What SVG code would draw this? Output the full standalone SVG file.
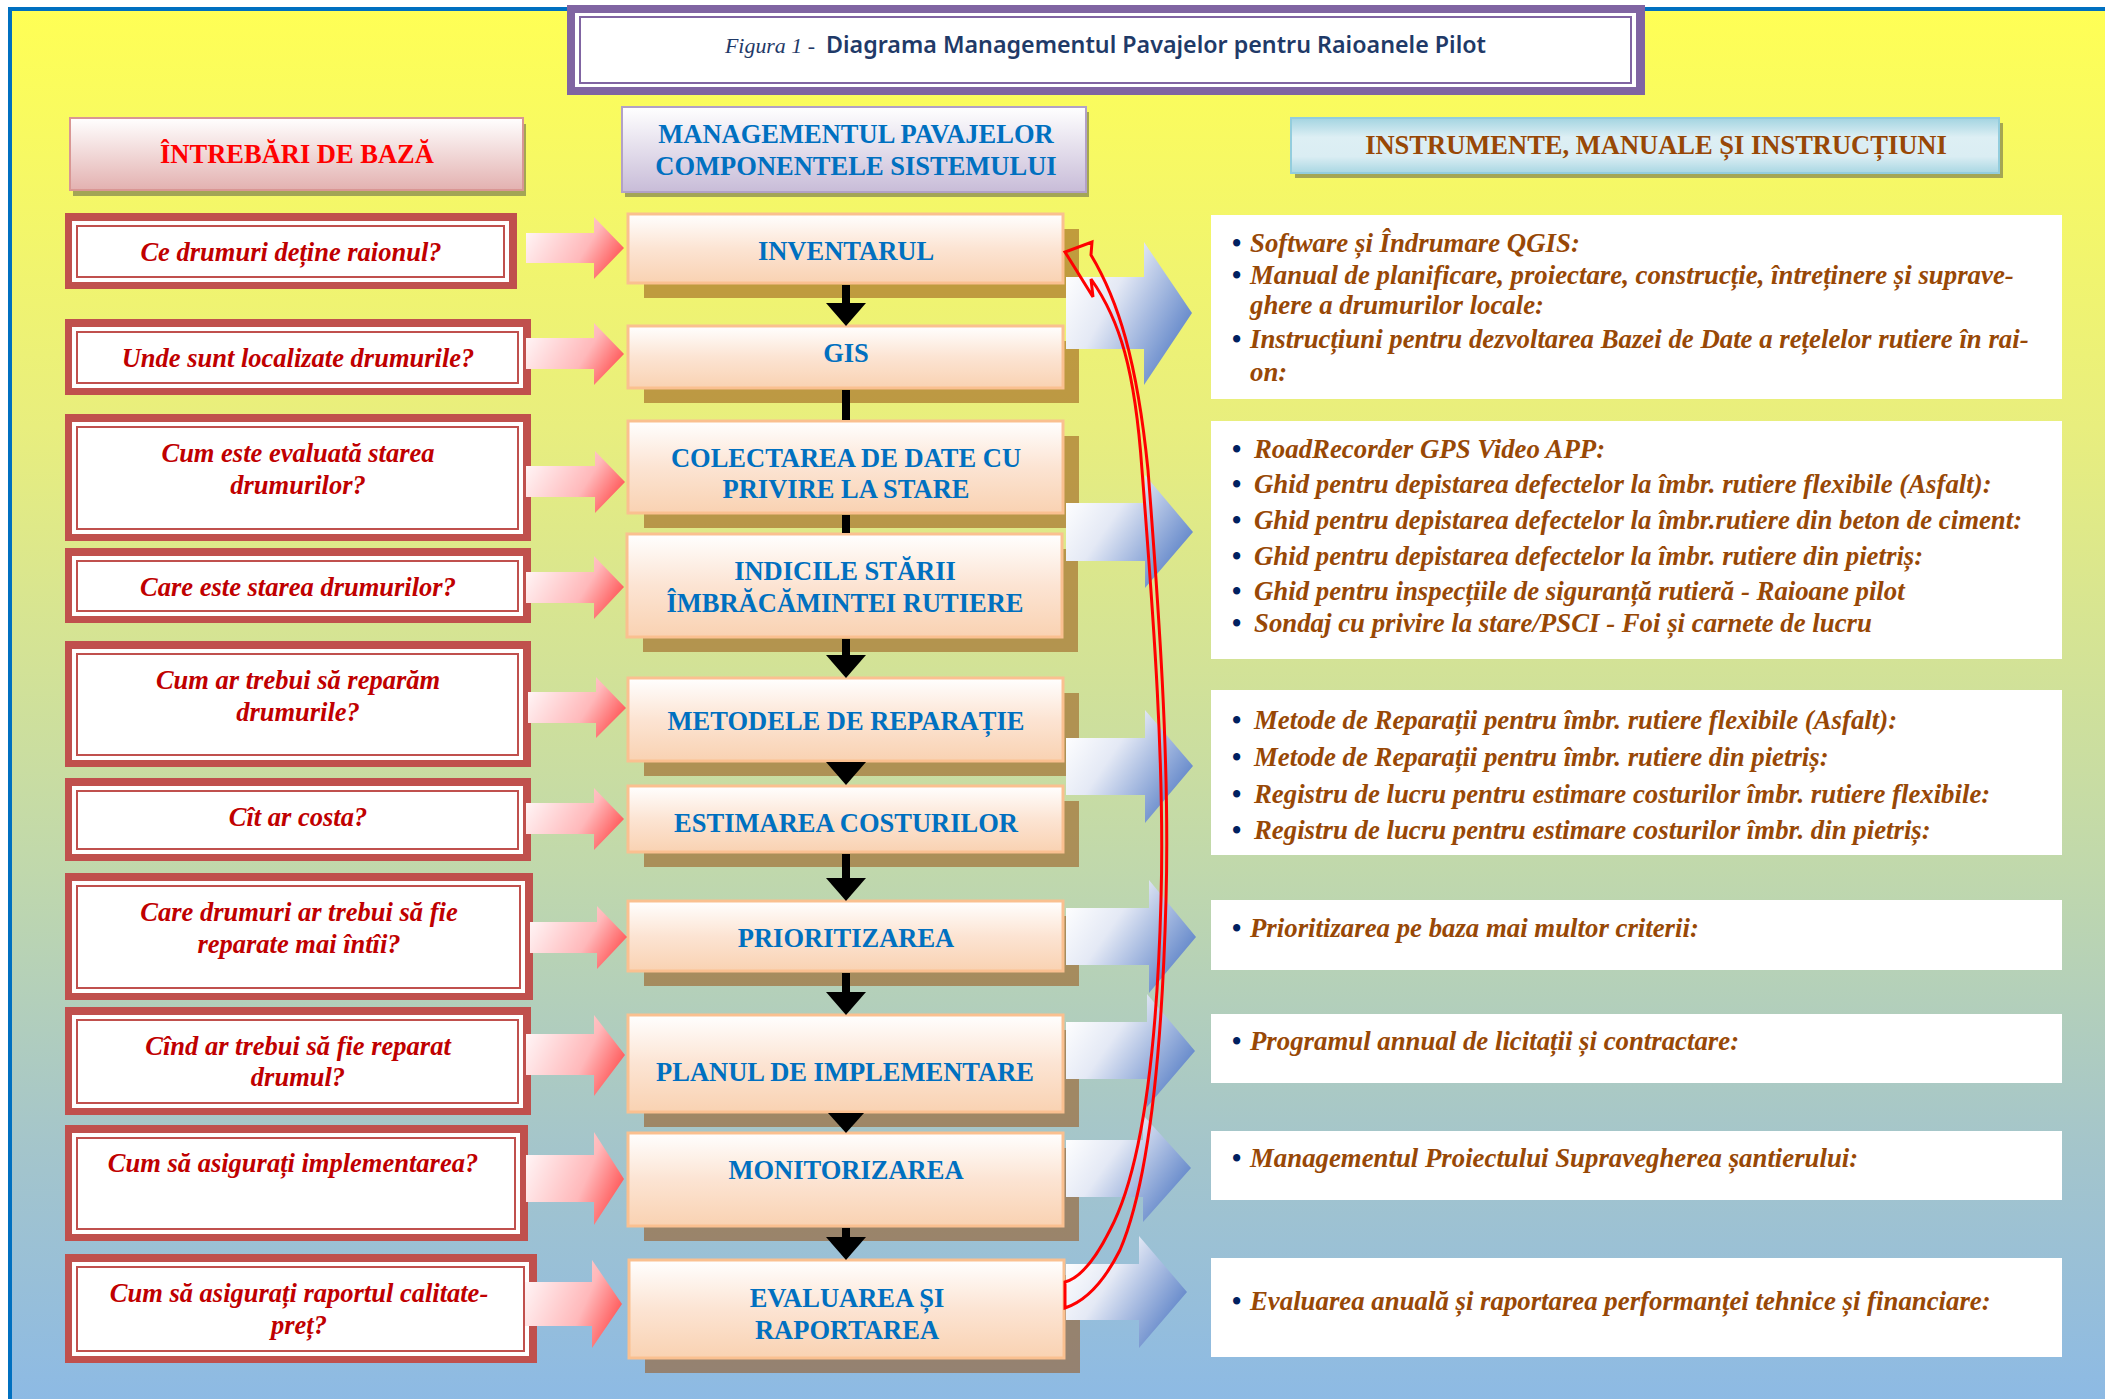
<svg xmlns="http://www.w3.org/2000/svg" width="2105" height="1399" viewBox="0 0 2105 1399">
<defs>
<linearGradient id="gBg" x1="0" y1="10" x2="0" y2="1399" gradientUnits="userSpaceOnUse">
<stop offset="0" stop-color="#FFFF55"/>
<stop offset="0.3" stop-color="#E8EE7E"/>
<stop offset="0.62" stop-color="#C0D8AC"/>
<stop offset="0.82" stop-color="#A4C5CB"/>
<stop offset="1" stop-color="#8DBAE4"/>
</linearGradient>
<linearGradient id="gCenter" x1="0" y1="0" x2="0" y2="1">
<stop offset="0" stop-color="#FFFFFF"/>
<stop offset="0.5" stop-color="#FCE4D3"/>
<stop offset="1" stop-color="#F9D2B2"/>
</linearGradient>
<linearGradient id="gH1" x1="0" y1="0" x2="0" y2="1">
<stop offset="0" stop-color="#FFFFFF"/>
<stop offset="1" stop-color="#E3B1B0"/>
</linearGradient>
<linearGradient id="gH2" x1="0" y1="0" x2="0" y2="1">
<stop offset="0" stop-color="#FFFFFF"/>
<stop offset="1" stop-color="#C8BCD8"/>
</linearGradient>
<linearGradient id="gH3" x1="0" y1="0" x2="0" y2="1">
<stop offset="0" stop-color="#A3D4E1"/>
<stop offset="0.35" stop-color="#DDEFF4"/>
<stop offset="0.7" stop-color="#DAEDF3"/>
<stop offset="1" stop-color="#A9D7E3"/>
</linearGradient>
<linearGradient id="gPink" x1="0" y1="0.3" x2="1" y2="0.7">
<stop offset="0" stop-color="#FFF3F4"/>
<stop offset="0.6" stop-color="#FFB8BA"/>
<stop offset="1" stop-color="#FF4D4D"/>
</linearGradient>
<linearGradient id="gBlue" x1="0" y1="0.2" x2="1" y2="0.8">
<stop offset="0" stop-color="#FFFFFF"/>
<stop offset="0.35" stop-color="#E4E9F5"/>
<stop offset="1" stop-color="#4C76C2"/>
</linearGradient>
</defs>
<style>
.serif{font-family:"Liberation Serif","Times New Roman",serif;font-weight:bold}
.q-outer{fill:#C0504D}
.q-inner{fill:#FFFFFF}
.q-line{fill:none;stroke:#C0504D;stroke-width:2}
.q-text{font-family:"Liberation Serif","Times New Roman",serif;font-weight:bold;font-style:italic;font-size:26.5px;fill:#C00000;text-anchor:middle}
.c-shadow{fill:#995518;fill-opacity:0.556}
.c-box{fill:url(#gCenter);stroke:#FAC090;stroke-width:3}
.c-text{font-family:"Liberation Serif","Times New Roman",serif;font-weight:bold;font-size:26.5px;fill:#0070C0;text-anchor:middle}
.r-box{fill:#FFFFFF}
.r-text{font-family:"Liberation Serif","Times New Roman",serif;font-weight:bold;font-style:italic;font-size:26.8px;fill:#984806}
.bullet{font-family:"Liberation Serif","Times New Roman",serif;font-weight:bold;font-size:26.5px;fill:#002060}
.h-shadow{fill:#404040;fill-opacity:0.45}
.pink{fill:url(#gPink)}
.blue{fill:url(#gBlue)}
.vline{stroke:#000000;stroke-width:8}
.vhead{fill:#000000}
.loop{fill:none;stroke:#FF0000;stroke-width:3;stroke-linejoin:miter}
</style>

<!-- background -->
<rect x="0" y="0" width="2105" height="1399" fill="#FFFFFF"/>
<rect x="10" y="9" width="2120" height="1420" fill="url(#gBg)" stroke="#0070C0" stroke-width="4"/>

<!-- title -->
<g id="title">
<rect x="567" y="5" width="1078" height="90" fill="#8064A2"/>
<rect x="575" y="13" width="1061" height="74" fill="#FFFFFF"/>
<rect x="580" y="17" width="1051" height="66" fill="none" stroke="#8064A2" stroke-width="2"/>
<text x="725" y="53" font-family="'Liberation Serif','Times New Roman',serif" font-style="italic" font-size="21" fill="#1F3A68" textLength="90" lengthAdjust="spacingAndGlyphs">Figura 1 -</text>
<text x="826" y="53" font-family="'Noto Sans','Open Sans',sans-serif" font-weight="600" font-size="22.5" fill="#1F3A68" textLength="660" lengthAdjust="spacingAndGlyphs">Diagrama Managementul Pavajelor pentru Raioanele Pilot</text>
</g>

<!-- headers -->
<g id="header-intrebari">
<rect class="h-shadow" x="73" y="124" width="453" height="72"/>
<rect x="70" y="118" width="453" height="72" fill="url(#gH1)" stroke="#D99694" stroke-width="2"/>
<text class="serif" x="297" y="163" font-size="26.5" fill="#FF0000" text-anchor="middle">ÎNTREBĂRI DE BAZĂ</text>
</g>
<g id="header-componente">
<rect class="h-shadow" x="625" y="112" width="464" height="85"/>
<rect x="622" y="107" width="464" height="85" fill="url(#gH2)" stroke="#B2A1C7" stroke-width="2"/>
<text class="serif" x="856" y="143" font-size="26.5" fill="#0070C0" text-anchor="middle">MANAGEMENTUL PAVAJELOR</text>
<text class="serif" x="856" y="175" font-size="26.5" fill="#0070C0" text-anchor="middle">COMPONENTELE SISTEMULUI</text>
</g>
<g id="header-instrumente">
<rect class="h-shadow" x="1295" y="123" width="708" height="55"/>
<rect x="1291" y="118" width="708" height="55" fill="url(#gH3)" stroke="#93CDDD" stroke-width="2"/>
<text class="serif" x="1656" y="154" font-size="26.5" fill="#984806" text-anchor="middle">INSTRUMENTE, MANUALE ȘI INSTRUCȚIUNI</text>
</g>

<!-- question nodes -->
<g id="q1">
<rect class="q-outer" x="65" y="213" width="452" height="76"/>
<rect class="q-inner" x="72" y="221" width="437" height="61"/>
<rect class="q-line" x="77" y="226" width="427" height="51"/>
<text class="q-text" x="291" y="261">Ce drumuri deține raionul?</text>
</g>
<g id="q2">
<rect class="q-outer" x="65" y="319" width="466" height="76"/>
<rect class="q-inner" x="72" y="327" width="451" height="61"/>
<rect class="q-line" x="77" y="332" width="441" height="51"/>
<text class="q-text" x="298" y="367">Unde sunt localizate drumurile?</text>
</g>
<g id="q3">
<rect class="q-outer" x="65" y="414" width="466" height="127"/>
<rect class="q-inner" x="72" y="422" width="451" height="112"/>
<rect class="q-line" x="77" y="427" width="441" height="102"/>
<text class="q-text" x="298" y="462">Cum este evaluată starea</text>
<text class="q-text" x="298" y="494">drumurilor?</text>
</g>
<g id="q4">
<rect class="q-outer" x="65" y="548" width="466" height="75"/>
<rect class="q-inner" x="72" y="556" width="451" height="60"/>
<rect class="q-line" x="77" y="561" width="441" height="50"/>
<text class="q-text" x="298" y="596">Care este starea drumurilor?</text>
</g>
<g id="q5">
<rect class="q-outer" x="65" y="641" width="466" height="126"/>
<rect class="q-inner" x="72" y="649" width="451" height="111"/>
<rect class="q-line" x="77" y="654" width="441" height="101"/>
<text class="q-text" x="298" y="689">Cum ar trebui să reparăm</text>
<text class="q-text" x="298" y="721">drumurile?</text>
</g>
<g id="q6">
<rect class="q-outer" x="65" y="778" width="466" height="83"/>
<rect class="q-inner" x="72" y="786" width="451" height="68"/>
<rect class="q-line" x="77" y="791" width="441" height="58"/>
<text class="q-text" x="298" y="826">Cît ar costa?</text>
</g>
<g id="q7">
<rect class="q-outer" x="65" y="873" width="468" height="127"/>
<rect class="q-inner" x="72" y="881" width="453" height="112"/>
<rect class="q-line" x="77" y="886" width="443" height="102"/>
<text class="q-text" x="299" y="921">Care drumuri ar trebui să fie</text>
<text class="q-text" x="299" y="953">reparate mai întîi?</text>
</g>
<g id="q8">
<rect class="q-outer" x="65" y="1007" width="466" height="108"/>
<rect class="q-inner" x="72" y="1015" width="451" height="93"/>
<rect class="q-line" x="77" y="1020" width="441" height="83"/>
<text class="q-text" x="298" y="1055">Cînd ar trebui să fie reparat</text>
<text class="q-text" x="298" y="1086">drumul?</text>
</g>
<g id="q9">
<rect class="q-outer" x="65" y="1125" width="463" height="116"/>
<rect class="q-inner" x="72" y="1133" width="448" height="101"/>
<rect class="q-line" x="77" y="1138" width="438" height="91"/>
<text class="q-text" x="293" y="1172">Cum să asigurați implementarea?</text>
</g>
<g id="q10">
<rect class="q-outer" x="65" y="1254" width="472" height="109"/>
<rect class="q-inner" x="72" y="1262" width="457" height="94"/>
<rect class="q-line" x="77" y="1267" width="447" height="84"/>
<text class="q-text" x="299" y="1302">Cum să asigurați raportul calitate-</text>
<text class="q-text" x="299" y="1334">preț?</text>
</g>

<!-- component nodes -->
<g id="c-inventarul">
<rect class="c-shadow" x="644" y="229" width="435" height="69"/>
<rect class="c-box" x="628" y="214" width="435" height="69"/>
<text class="c-text" x="846" y="260">INVENTARUL</text>
</g>
<g id="c-gis">
<rect class="c-shadow" x="644" y="341" width="435" height="62"/>
<rect class="c-box" x="628" y="326" width="435" height="62"/>
<text class="c-text" x="846" y="362">GIS</text>
</g>
<g id="c-colectarea">
<rect class="c-shadow" x="644" y="436" width="435" height="92"/>
<rect class="c-box" x="628" y="421" width="435" height="92"/>
<text class="c-text" x="846" y="467">COLECTAREA DE DATE CU</text>
<text class="c-text" x="846" y="498">PRIVIRE LA STARE</text>
</g>
<g id="c-indicile">
<rect class="c-shadow" x="643" y="549" width="435" height="103"/>
<rect class="c-box" x="627" y="534" width="435" height="103"/>
<text class="c-text" x="845" y="580">INDICILE STĂRII</text>
<text class="c-text" x="845" y="612">ÎMBRĂCĂMINTEI RUTIERE</text>
</g>
<g id="c-metodele">
<rect class="c-shadow" x="644" y="693" width="435" height="83"/>
<rect class="c-box" x="628" y="678" width="435" height="83"/>
<text class="c-text" x="846" y="730">METODELE DE REPARAȚIE</text>
</g>
<g id="c-estimarea">
<rect class="c-shadow" x="644" y="801" width="435" height="66"/>
<rect class="c-box" x="628" y="786" width="435" height="66"/>
<text class="c-text" x="846" y="832">ESTIMAREA COSTURILOR</text>
</g>
<g id="c-prioritizarea">
<rect class="c-shadow" x="644" y="916" width="435" height="70"/>
<rect class="c-box" x="628" y="901" width="435" height="70"/>
<text class="c-text" x="846" y="947">PRIORITIZAREA</text>
</g>
<g id="c-planul">
<rect class="c-shadow" x="644" y="1030" width="435" height="97"/>
<rect class="c-box" x="628" y="1015" width="435" height="97"/>
<text class="c-text" x="845" y="1081">PLANUL DE IMPLEMENTARE</text>
</g>
<g id="c-monitorizarea">
<rect class="c-shadow" x="644" y="1148" width="435" height="93"/>
<rect class="c-box" x="628" y="1133" width="435" height="93"/>
<text class="c-text" x="846" y="1179">MONITORIZAREA</text>
</g>
<g id="c-evaluarea">
<rect class="c-shadow" x="645" y="1275" width="435" height="98"/>
<rect class="c-box" x="629" y="1260" width="435" height="98"/>
<text class="c-text" x="847" y="1307">EVALUAREA ȘI</text>
<text class="c-text" x="847" y="1339">RAPORTAREA</text>
</g>

<!-- tool/manual nodes -->
<g id="r1">
<rect class="r-box" x="1211" y="215" width="851" height="184"/>
<text class="bullet" x="1232" y="252">•</text><text class="r-text" x="1250" y="252">Software și Îndrumare QGIS:</text>
<text class="bullet" x="1232" y="284">•</text><text class="r-text" x="1250" y="284">Manual de planificare, proiectare, construcție, întreținere și suprave-</text>
<text class="r-text" x="1250" y="314">ghere a drumurilor locale:</text>
<text class="bullet" x="1232" y="348">•</text><text class="r-text" x="1250" y="348">Instrucțiuni pentru dezvoltarea Bazei de Date a rețelelor rutiere în rai-</text>
<text class="r-text" x="1250" y="381">on:</text>
</g>
<g id="r2">
<rect class="r-box" x="1211" y="421" width="851" height="238"/>
<text class="bullet" x="1232" y="458">•</text><text class="r-text" x="1254" y="458">RoadRecorder GPS Video APP:</text>
<text class="bullet" x="1232" y="493">•</text><text class="r-text" x="1254" y="493">Ghid pentru depistarea defectelor la îmbr. rutiere flexibile (Asfalt):</text>
<text class="bullet" x="1232" y="529">•</text><text class="r-text" x="1254" y="529">Ghid pentru depistarea defectelor la îmbr.rutiere din beton de ciment:</text>
<text class="bullet" x="1232" y="565">•</text><text class="r-text" x="1254" y="565">Ghid pentru depistarea defectelor la îmbr. rutiere din pietriș:</text>
<text class="bullet" x="1232" y="600">•</text><text class="r-text" x="1254" y="600">Ghid pentru inspecțiile de siguranță rutieră - Raioane pilot</text>
<text class="bullet" x="1232" y="632">•</text><text class="r-text" x="1254" y="632">Sondaj cu privire la stare/PSCI - Foi și carnete de lucru</text>
</g>
<g id="r3">
<rect class="r-box" x="1211" y="690" width="851" height="165"/>
<text class="bullet" x="1232" y="729">•</text><text class="r-text" x="1254" y="729">Metode de Reparații pentru îmbr. rutiere flexibile (Asfalt):</text>
<text class="bullet" x="1232" y="766">•</text><text class="r-text" x="1254" y="766">Metode de Reparații pentru îmbr. rutiere din pietriș:</text>
<text class="bullet" x="1232" y="803">•</text><text class="r-text" x="1254" y="803">Registru de lucru pentru estimare costurilor îmbr. rutiere flexibile:</text>
<text class="bullet" x="1232" y="839">•</text><text class="r-text" x="1254" y="839">Registru de lucru pentru estimare costurilor îmbr. din pietriș:</text>
</g>
<g id="r4">
<rect class="r-box" x="1211" y="900" width="851" height="70"/>
<text class="bullet" x="1232" y="937">•</text><text class="r-text" x="1250" y="937">Prioritizarea pe baza mai multor criterii:</text>
</g>
<g id="r5">
<rect class="r-box" x="1211" y="1014" width="851" height="69"/>
<text class="bullet" x="1232" y="1050">•</text><text class="r-text" x="1250" y="1050">Programul annual de licitații și contractare:</text>
</g>
<g id="r6">
<rect class="r-box" x="1211" y="1131" width="851" height="69"/>
<text class="bullet" x="1232" y="1167">•</text><text class="r-text" x="1250" y="1167">Managementul Proiectului Supravegherea șantierului:</text>
</g>
<g id="r7">
<rect class="r-box" x="1211" y="1258" width="851" height="99"/>
<text class="bullet" x="1232" y="1310">•</text><text class="r-text" x="1250" y="1310">Evaluarea anuală și raportarea performanței tehnice și financiare:</text>
</g>

<!-- connectors -->
<g id="connectors">
<line class="vline" x1="846" y1="285" x2="846" y2="306"/>
<polygon class="vhead" points="826,303 866,303 846,326"/>
<line class="vline" x1="846" y1="390" x2="846" y2="420"/>
<line class="vline" x1="846" y1="515" x2="846" y2="533"/>
<line class="vline" x1="846" y1="639" x2="846" y2="658"/>
<polygon class="vhead" points="826,655 866,655 846,678"/>
<polygon class="vhead" points="826,762 866,762 846,785"/>
<line class="vline" x1="846" y1="854" x2="846" y2="881"/>
<polygon class="vhead" points="826,878 866,878 846,901"/>
<line class="vline" x1="846" y1="973" x2="846" y2="995"/>
<polygon class="vhead" points="826,992 866,992 846,1015"/>
<polygon class="vhead" points="828,1113 864,1113 846,1133"/>
<line class="vline" x1="846" y1="1228" x2="846" y2="1240"/>
<polygon class="vhead" points="826,1237 866,1237 846,1260"/>

<polygon class="pink" points="526,233 594,233 594,217 624,248 594,279 594,263 526,263"/>
<polygon class="pink" points="526,338 594,338 594,323 624,354 594,385 594,369 526,369"/>
<polygon class="pink" points="526,466 595,466 595,451 625,482 595,513 595,497 526,497"/>
<polygon class="pink" points="526,572 594,572 594,556 624,587 594,619 594,603 526,603"/>
<polygon class="pink" points="528,692 596,692 596,677 626,708 596,738 596,723 528,723"/>
<polygon class="pink" points="526,803 594,803 594,788 624,819 594,850 594,834 526,834"/>
<polygon class="pink" points="530,922 597,922 597,906 627,937 597,969 597,953 530,953"/>
<polygon class="pink" points="526,1034 594,1034 594,1015 625,1055 594,1096 594,1075 526,1075"/>
<polygon class="pink" points="526,1155 594,1155 594,1132 624,1179 594,1225 594,1202 526,1202"/>
<polygon class="pink" points="525,1282 592,1282 592,1260 622,1304 592,1348 592,1326 525,1326"/>

<polygon class="blue" points="1066,277 1144,277 1144,242 1192,313 1144,385 1144,349 1066,349"/>
<polygon class="blue" points="1066,503 1145,503 1145,475 1193,532 1145,588 1145,561 1066,561"/>
<polygon class="blue" points="1066,738 1145,738 1145,710 1193,766 1145,823 1145,795 1066,795"/>
<polygon class="blue" points="1066,908 1149,908 1149,880 1196,937 1149,993 1149,965 1066,965"/>
<polygon class="blue" points="1066,1022 1147,1022 1147,994 1195,1051 1147,1107 1147,1079 1066,1079"/>
<polygon class="blue" points="1066,1140 1143,1140 1143,1115 1191,1168 1143,1222 1143,1197 1066,1197"/>
<polygon class="blue" points="1066,1264 1139,1264 1139,1236 1187,1292 1139,1348 1139,1320 1066,1320"/>

<path class="loop" d="M1091,279 L1093,297 L1065,252 L1092,242 L1091,255 C1118,300 1137,360 1148,470 C1158,600 1170,760 1166,900 C1162,1050 1150,1180 1120,1250 C1100,1290 1080,1303 1065,1308 L1065,1282 C1080,1278 1095,1260 1110,1230 C1142,1170 1157,1050 1161,900 C1165,760 1152,600 1142,470 C1135,370 1120,320 1091,279 Z"/>
</g>
</svg>
